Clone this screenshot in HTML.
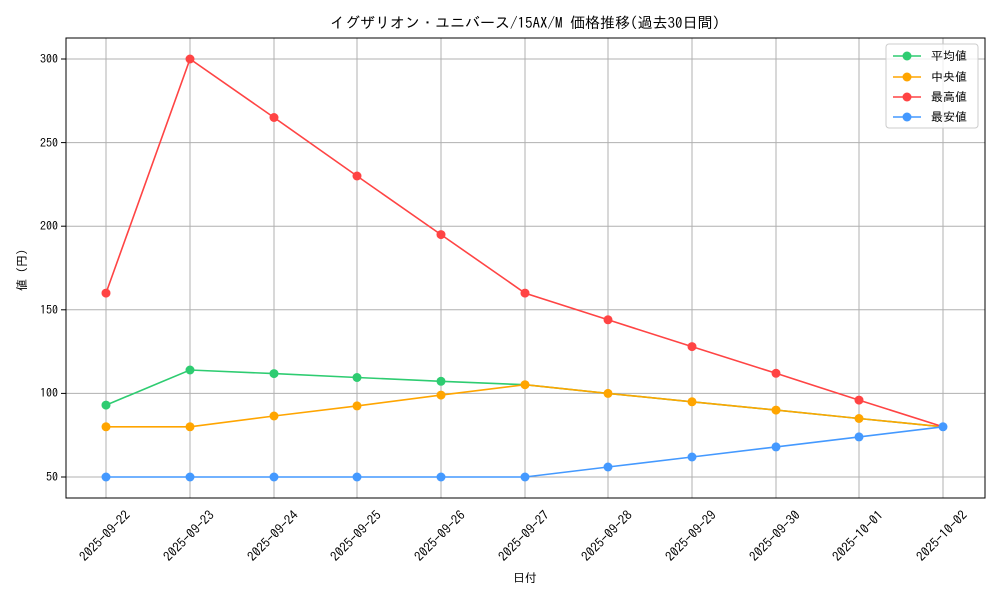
<!DOCTYPE html>
<html><head><meta charset="utf-8"><style>
body{margin:0;background:#fff;}
svg text{font-family:"IPAGothic","Liberation Sans",sans-serif;fill:#000;}
</style></head><body>
<svg width="1000" height="600" viewBox="0 0 1000 600" xmlns="http://www.w3.org/2000/svg">
<rect width="1000" height="600" fill="#fff"/>
<text x="525" y="28" font-size="15" text-anchor="middle">イグザリオン・ユニバース/15AX/M 価格推移(過去30日間)</text>
<g stroke="#b0b0b0" stroke-width="1">
<line x1="106" y1="38" x2="106" y2="498"/><line x1="190" y1="38" x2="190" y2="498"/><line x1="274" y1="38" x2="274" y2="498"/><line x1="357" y1="38" x2="357" y2="498"/><line x1="441" y1="38" x2="441" y2="498"/><line x1="525" y1="38" x2="525" y2="498"/><line x1="608" y1="38" x2="608" y2="498"/><line x1="692" y1="38" x2="692" y2="498"/><line x1="776" y1="38" x2="776" y2="498"/><line x1="859" y1="38" x2="859" y2="498"/><line x1="943" y1="38" x2="943" y2="498"/>
<line x1="66" y1="477" x2="985" y2="477"/><line x1="66" y1="393.4" x2="985" y2="393.4"/><line x1="66" y1="309.8" x2="985" y2="309.8"/><line x1="66" y1="226.2" x2="985" y2="226.2"/><line x1="66" y1="142.6" x2="985" y2="142.6"/><line x1="66" y1="59" x2="985" y2="59"/>
</g>
<rect x="66" y="38" width="919" height="460" fill="none" stroke="#000" stroke-width="1"/>
<g stroke="#000"><line x1="61" y1="477" x2="66" y2="477"/><line x1="61" y1="393.4" x2="66" y2="393.4"/><line x1="61" y1="309.8" x2="66" y2="309.8"/><line x1="61" y1="226.2" x2="66" y2="226.2"/><line x1="61" y1="142.6" x2="66" y2="142.6"/><line x1="61" y1="59" x2="66" y2="59"/></g>
<g font-size="12" text-anchor="end"><text x="58" y="481">50</text><text x="58" y="397">100</text><text x="58" y="314">150</text><text x="58" y="230">200</text><text x="58" y="147">250</text><text x="58" y="63">300</text></g>
<g font-size="13" text-anchor="middle">
<text transform="translate(108,539) rotate(-45)">2025-09-22</text><text transform="translate(192,539) rotate(-45)">2025-09-23</text><text transform="translate(276,539) rotate(-45)">2025-09-24</text><text transform="translate(359,539) rotate(-45)">2025-09-25</text><text transform="translate(443,539) rotate(-45)">2025-09-26</text><text transform="translate(527,539) rotate(-45)">2025-09-27</text><text transform="translate(610,539) rotate(-45)">2025-09-28</text><text transform="translate(694,539) rotate(-45)">2025-09-29</text><text transform="translate(778,539) rotate(-45)">2025-09-30</text><text transform="translate(861,539) rotate(-45)">2025-10-01</text><text transform="translate(945,539) rotate(-45)">2025-10-02</text>
</g>
<text x="525" y="582" font-size="12" text-anchor="middle">日付</text>
<text transform="translate(26,270) rotate(-90)" font-size="12" text-anchor="middle">値 (円)</text>
<g fill="none" stroke-width="1.6">
<polyline stroke="#2ecc71" points="106,405.1 190,370 274,373.6 357,377.5 441,381.3 525,384.7 608,393.4 692,401.8 776,410.1 859,418.5 943,426.8"/>
<polyline stroke="#ffa500" points="106,426.8 190,426.8 274,416 357,405.9 441,395.1 525,384.7 608,393.4 692,401.8 776,410.1 859,418.5 943,426.8"/>
<polyline stroke="#ff4444" points="106,293.1 190,59 274,117.5 357,176 441,234.6 525,293.1 608,319.8 692,346.6 776,373.3 859,400.1 943,426.8"/>
<polyline stroke="#4499ff" points="106,477 190,477 274,477 357,477 441,477 525,477 608,467 692,457 776,446.9 859,436.9 943,426.8"/>
</g>
<g fill="#2ecc71"><circle cx="106" cy="405.1" r="4.5"/><circle cx="190" cy="370" r="4.5"/><circle cx="274" cy="373.6" r="4.5"/><circle cx="357" cy="377.5" r="4.5"/><circle cx="441" cy="381.3" r="4.5"/></g>
<g fill="#ffa500"><circle cx="106" cy="426.8" r="4.5"/><circle cx="190" cy="426.8" r="4.5"/><circle cx="274" cy="416" r="4.5"/><circle cx="357" cy="405.9" r="4.5"/><circle cx="441" cy="395.1" r="4.5"/><circle cx="525" cy="384.7" r="4.5"/><circle cx="608" cy="393.4" r="4.5"/><circle cx="692" cy="401.8" r="4.5"/><circle cx="776" cy="410.1" r="4.5"/><circle cx="859" cy="418.5" r="4.5"/></g>
<g fill="#ff4444"><circle cx="106" cy="293.1" r="4.5"/><circle cx="190" cy="59" r="4.5"/><circle cx="274" cy="117.5" r="4.5"/><circle cx="357" cy="176" r="4.5"/><circle cx="441" cy="234.6" r="4.5"/><circle cx="525" cy="293.1" r="4.5"/><circle cx="608" cy="319.8" r="4.5"/><circle cx="692" cy="346.6" r="4.5"/><circle cx="776" cy="373.3" r="4.5"/><circle cx="859" cy="400.1" r="4.5"/></g>
<g fill="#4499ff"><circle cx="106" cy="477" r="4.5"/><circle cx="190" cy="477" r="4.5"/><circle cx="274" cy="477" r="4.5"/><circle cx="357" cy="477" r="4.5"/><circle cx="441" cy="477" r="4.5"/><circle cx="525" cy="477" r="4.5"/><circle cx="608" cy="467" r="4.5"/><circle cx="692" cy="457" r="4.5"/><circle cx="776" cy="446.9" r="4.5"/><circle cx="859" cy="436.9" r="4.5"/><circle cx="943" cy="426.8" r="4.5"/></g>
<rect x="886" y="44" width="92" height="84" rx="3" fill="#fff" fill-opacity="0.8" stroke="#ccc"/>
<g stroke-width="1.6">
<line x1="893" y1="56" x2="921" y2="56" stroke="#2ecc71"/><circle cx="907" cy="56" r="4.5" fill="#2ecc71"/>
<line x1="893" y1="77" x2="921" y2="77" stroke="#ffa500"/><circle cx="907" cy="77" r="4.5" fill="#ffa500"/>
<line x1="893" y1="97" x2="921" y2="97" stroke="#ff4444"/><circle cx="907" cy="97" r="4.5" fill="#ff4444"/>
<line x1="893" y1="117" x2="921" y2="117" stroke="#4499ff"/><circle cx="907" cy="117" r="4.5" fill="#4499ff"/>
</g>
<g font-size="12"><text x="931" y="60">平均値</text><text x="931" y="81"> 中央値</text><text x="931" y="101">最高値</text><text x="931" y="121">最安値</text></g>
</svg>
</body></html>
